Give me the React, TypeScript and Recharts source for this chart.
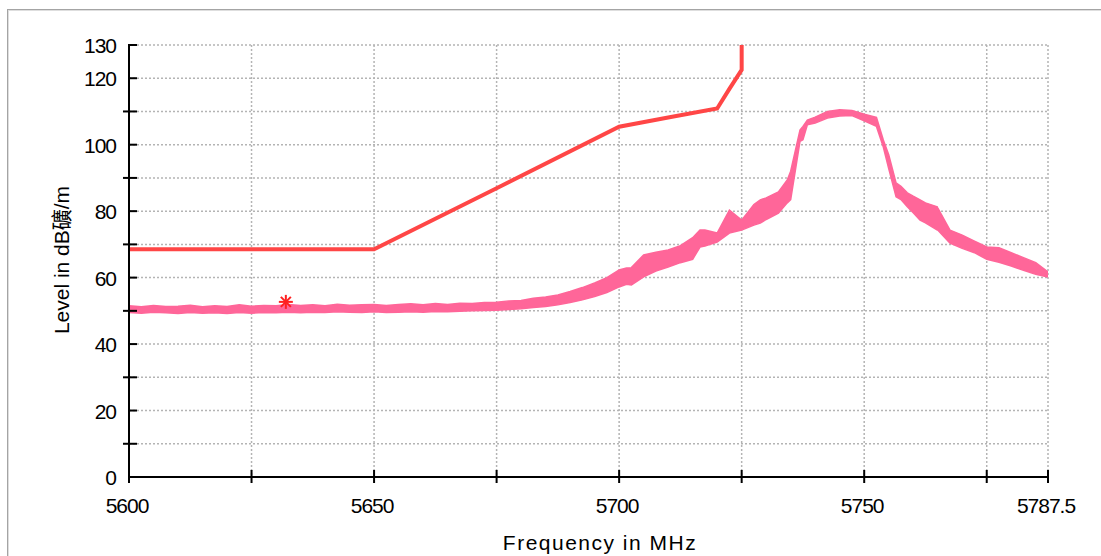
import React from 'react';
import { ComposedChart, Line, Area, Scatter, XAxis, YAxis, CartesianGrid } from 'recharts';

// ---- Data ----
const traceFreqs = [
  5600, 5602.5, 5605, 5607.5, 5610, 5612.5, 5615, 5617.5, 5620, 5622.5,
  5625, 5627.5, 5630, 5632.5, 5635, 5637.5, 5640, 5642.5, 5645, 5647.5,
  5650, 5652.5, 5655, 5657.5, 5660, 5662.5, 5665, 5667.5, 5670, 5672.5,
  5675, 5677.5, 5680, 5682.5, 5685, 5687.5, 5690, 5692.5, 5695, 5697.5,
  5700, 5701.5, 5702.5, 5705, 5707.5, 5710, 5712.5, 5715, 5716.5, 5717.5, 5720, 5722.5,
  5725, 5727.5, 5728.8, 5730, 5732.5, 5734.3, 5735, 5736.9, 5737.5, 5738.4, 5740, 5742.5, 5745, 5747.5,
  5750, 5752.5, 5753.9, 5755, 5756.5, 5757.5, 5758.8, 5760, 5761.4, 5762.5, 5764.9, 5765, 5767.5, 5770, 5772.5,
  5775, 5777.5, 5780, 5782.5, 5785, 5787.5,
];
const traceLow = [
  49.5, 49.3, 49.6, 49.4, 49.2, 49.5, 49.3, 49.4, 49.2, 49.5,
  49.3, 49.5, 49.4, 49.6, 49.4, 49.6, 49.5, 49.7, 49.6, 49.5,
  49.7, 49.5, 49.6, 49.7, 49.6, 49.8, 49.7, 49.9, 50.0, 50.1,
  50.2, 50.4, 50.6, 51.0, 51.3, 51.8, 52.5, 53.3, 54.3, 55.5,
  57.2, 58.0, 57.8, 60.2, 62.0, 63.2, 64.5, 65.5, 69.2, 69.5, 70.7, 73.4,
  74.3, 75.8, 76.4, 77.5, 79.4, 82.5, 83.5, 101.0, 101.5, 106.0, 106.5, 108.0, 108.6, 108.8,
  107.2, 105.5, 99.3, 92.8, 84.3, 83.5, 81.3, 79.5, 77.3, 76.5, 74.3, 74.3, 70.4, 68.8, 67.5,
  65.5, 64.6, 63.5, 62.2, 61.0, 60.2,
];
const traceHigh = [
  51.5, 51.2, 51.6, 51.3, 51.4, 51.7, 51.2, 51.5, 51.3, 51.8,
  51.4, 51.6, 51.5, 51.9, 51.6, 51.8, 51.5, 52.0, 51.7, 51.8,
  51.9, 51.6, 51.9, 52.1, 51.8, 52.2, 51.9, 52.3, 52.2, 52.5,
  52.6, 53.0, 53.1, 53.8, 54.2, 54.8, 55.8, 57.0, 58.4, 60.0,
  62.3, 62.9, 63.0, 66.8, 67.6, 68.3, 69.6, 72.0, 74.3, 74.3, 73.4, 80.3,
  77.3, 82.0, 83.4, 84.0, 85.8, 89.4, 92.0, 104.4, 105.5, 107.4, 108.3, 110.0, 110.5, 110.3,
  109.2, 108.2, 101.4, 97.0, 88.5, 87.5, 85.5, 84.5, 83.4, 82.5, 81.3, 81.0, 74.3, 72.8, 71.0,
  69.2, 69.0, 67.5, 66.0, 64.5, 61.7,
];

const limitFreqs = [5600, 5650, 5675, 5700, 5710, 5720, 5722.5, 5725, 5725];
const limitLevels = [68.5, 68.5, 86.9, 105.4, 108.2, 110.9, 116.8, 122.5, 130];

const markerFreqs = [5632];
const markerLevels = [52.7];

const xTicks = [5600, 5625, 5650, 5675, 5700, 5725, 5750, 5775, 5787.5];
const xLabelTicks = [5600, 5650, 5700, 5750, 5787.5];
const yTicks = [0, 10, 20, 30, 40, 50, 60, 70, 80, 90, 100, 110, 120, 130];
const yLabelTicks = [0, 20, 40, 60, 80, 100, 120, 130];

const xTitle = 'Frequency in MHz';
const yTitle = 'Level in dB礦/m';

// ---- Derived tables ----
const traceData = traceFreqs.map((f, i) => ({ f, band: [traceLow[i], traceHigh[i]] }));
const limitData = limitFreqs.map((f, i) => ({ f, v: limitLevels[i] }));
const markerData = markerFreqs.map((f, i) => ({ f, v: markerLevels[i] }));

const FONT = '"Liberation Sans", Arial, "Noto Sans CJK SC", sans-serif';
const TRACE = '#ff6699';
const LIMIT = '#ff4646';

const XTick = (props: any) => {
  const { x, y, payload } = props;
  const v = payload.value;
  return (
    <g>
      <line x1={x} x2={x} y1={y - 7} y2={y + 6} stroke="#000" strokeWidth={2} />
      {xLabelTicks.includes(v) && (
        <text x={x - 2} y={y + 36} textAnchor="middle" fontFamily={FONT} fontSize={21}
          letterSpacing={-1} fill="#000">{String(v)}</text>
      )}
    </g>
  );
};

const YTick = (props: any) => {
  const { x, y, payload } = props;
  const v = payload.value;
  const labeled = yLabelTicks.includes(v);
  return (
    <g>
      <line x1={labeled ? x - 1 : x - 6} x2={x + 8} y1={y} y2={y} stroke="#000" strokeWidth={2} />
      {labeled && (
        <text x={x - 13} y={y + 8} textAnchor="end" fontFamily={FONT} fontSize={21}
          letterSpacing={-1} fill="#000">{String(v)}</text>
      )}
    </g>
  );
};

const Asterisk = (props: any) => {
  const { cx, cy } = props;
  const r = 7;
  const d = 5;
  return (
    <g stroke="#ff2020" strokeWidth={2}>
      <line x1={cx} x2={cx} y1={cy - r} y2={cy + r} />
      <line x1={cx - r} x2={cx + r} y1={cy} y2={cy} />
      <line x1={cx - d} x2={cx + d} y1={cy - d} y2={cy + d} />
      <line x1={cx - d} x2={cx + d} y1={cy + d} y2={cy - d} />
    </g>
  );
};

export default function App() {
  return (
    <div style={{ position: 'absolute', left: 0, top: 0, width: 1101, height: 556, overflow: 'hidden', background: '#fff' }}>
      <div style={{
        position: 'absolute', left: 7, top: 9, width: 1200, height: 700,
        borderTop: '1px solid #a4a4a4', borderLeft: '1px solid #a4a4a4',
        boxShadow: 'inset 1px 1px 0 #dedede',
      }} />
      <div style={{ position: 'absolute', left: 0, top: 0 }}>
        <ComposedChart width={1101} height={556} margin={{ top: 45, right: 53, bottom: 49, left: 69 }}>
          <CartesianGrid stroke="#b4b4b4" strokeDasharray="2 2" strokeWidth={1.5} />
          <XAxis
            type="number" dataKey="f" domain={[5600, 5787.5]} ticks={xTicks} interval={0}
            allowDataOverflow tickSize={0} tickMargin={0} tickLine={false}
            axisLine={{ stroke: '#000', strokeWidth: 2 }} tick={<XTick />} height={30}
          />
          <YAxis
            type="number" domain={[0, 130]} ticks={yTicks} interval={0}
            allowDataOverflow tickSize={0} tickMargin={0} tickLine={false}
            axisLine={{ stroke: '#000', strokeWidth: 2 }} tick={<YTick />} width={60}
          />
          <Area data={traceData} dataKey="band" type="linear" stroke={TRACE} strokeWidth={1.5}
            fill={TRACE} fillOpacity={1} isAnimationActive={false} dot={false} activeDot={false} />
          <Line data={limitData} dataKey="v" type="linear" stroke={LIMIT} strokeWidth={4}
            dot={false} activeDot={false} isAnimationActive={false} />
          <Scatter data={markerData} dataKey="v" shape={<Asterisk />} isAnimationActive={false} />
        </ComposedChart>
      </div>
      <div style={{
        position: 'absolute', left: 61, top: 260, transform: 'translate(-50%, -50%) rotate(-90deg)',
        whiteSpace: 'nowrap', fontFamily: FONT, fontSize: 21, lineHeight: '21px', color: '#000',
      }}>{yTitle}</div>
      <div style={{
        position: 'absolute', left: 600, top: 532, transform: 'translateX(-50%)',
        whiteSpace: 'nowrap', fontFamily: FONT, fontSize: 21, lineHeight: '21px', letterSpacing: 1.5, color: '#000',
      }}>{xTitle}</div>
    </div>
  );
}
